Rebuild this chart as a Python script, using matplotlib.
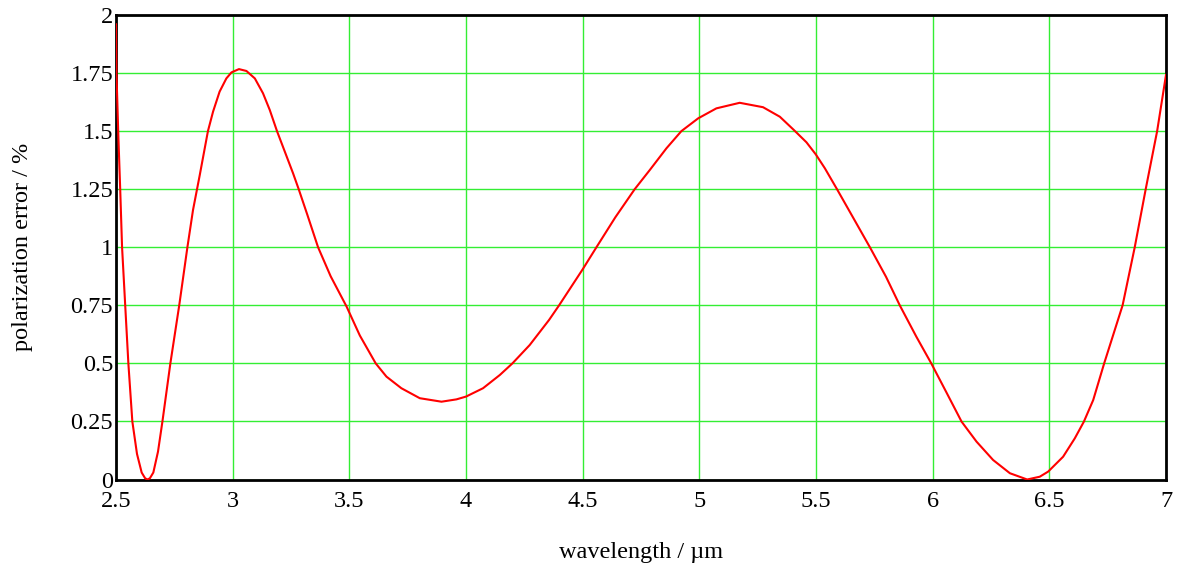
import matplotlib
matplotlib.use("Agg")
import matplotlib.pyplot as plt

# wavelength (um) and polarization error (%)
wavelength = [2.500, 2.502, 2.510, 2.518, 2.526, 2.540, 2.553, 2.570, 2.590, 2.610,
              2.625, 2.635, 2.645, 2.660, 2.680, 2.699, 2.733, 2.771, 2.806, 2.830,
              2.859, 2.894, 2.916, 2.944, 2.973, 2.995, 3.027, 3.059, 3.095, 3.130,
              3.159, 3.190, 3.259, 3.283, 3.320, 3.366, 3.420, 3.488, 3.545, 3.613,
              3.659, 3.723, 3.802, 3.895, 3.959, 4.000, 4.073, 4.145, 4.199, 4.273,
              4.356, 4.399, 4.500, 4.559, 4.640, 4.723, 4.788, 4.859, 4.923, 4.995,
              5.073, 5.173, 5.273, 5.345, 5.405, 5.459, 5.499, 5.538, 5.590, 5.660,
              5.731, 5.800, 5.859, 5.930, 5.994, 6.059, 6.124, 6.188, 6.259, 6.331,
              6.405, 6.459, 6.495, 6.559, 6.609, 6.648, 6.688, 6.735, 6.814, 6.866,
              6.913, 6.962, 7.000]
error = [1.96, 1.75, 1.48, 1.25, 1.00, 0.74, 0.50, 0.25, 0.11, 0.03,
         0.005, 0.0, 0.005, 0.03, 0.12, 0.25, 0.50, 0.75, 1.00, 1.16,
         1.311, 1.50, 1.584, 1.67, 1.727, 1.753, 1.767, 1.759, 1.727, 1.663,
         1.591, 1.50, 1.318, 1.25, 1.14, 1.00, 0.875, 0.745, 0.62, 0.50,
         0.443, 0.393, 0.35, 0.335, 0.345, 0.357, 0.393, 0.45, 0.50, 0.579,
         0.687, 0.75, 0.905, 1.00, 1.129, 1.25, 1.333, 1.426, 1.50, 1.555,
         1.598, 1.622, 1.603, 1.562, 1.505, 1.452, 1.40, 1.34, 1.25, 1.126,
         1.00, 0.873, 0.75, 0.615, 0.50, 0.375, 0.249, 0.163, 0.084, 0.027,
         0.0, 0.012, 0.034, 0.098, 0.177, 0.249, 0.342, 0.50, 0.75, 1.00,
         1.25, 1.50, 1.742]

xticks = [2.5, 3, 3.5, 4, 4.5, 5, 5.5, 6, 6.5, 7]
xticklabels = ["2.5", "3", "3.5", "4", "4.5", "5", "5.5", "6", "6.5", "7"]
yticks = [0, 0.25, 0.5, 0.75, 1, 1.25, 1.5, 1.75, 2]
yticklabels = ["0", "0.25", "0.5", "0.75", "1", "1.25", "1.5", "1.75", "2"]

plt.rcParams['font.family'] = ['Liberation Serif', 'DejaVu Serif']

fig = plt.figure(figsize=(11.87, 5.68), dpi=100)
ax = fig.add_axes([116/1187, 1 - 479.5/568, 1050/1187, 464.5/568])

ax.plot(wavelength, error, color='#ff0000', linewidth=1.5, zorder=3,
        solid_joinstyle='round')

ax.set_xlim(2.5, 7)
ax.set_ylim(0, 2)
ax.set_xticks(xticks)
ax.set_xticklabels(xticklabels)
ax.set_yticks(yticks)
ax.set_yticklabels(yticklabels)
ax.tick_params(axis='both', length=0, labelsize=17.5)
ax.tick_params(axis='x', pad=8)
ax.tick_params(axis='y', pad=2)

ax.grid(True, color='#33ee33', linewidth=1.0, zorder=1)
ax.set_axisbelow(True)
for s in ax.spines.values():
    s.set_linewidth(2)
    s.set_color('black')

ax.set_xlabel('wavelength / \u00b5m', fontsize=17.5, labelpad=22)
ax.set_ylabel('polarization error / %', fontsize=17.5, labelpad=27)

fig.savefig('out.png', dpi=100)
